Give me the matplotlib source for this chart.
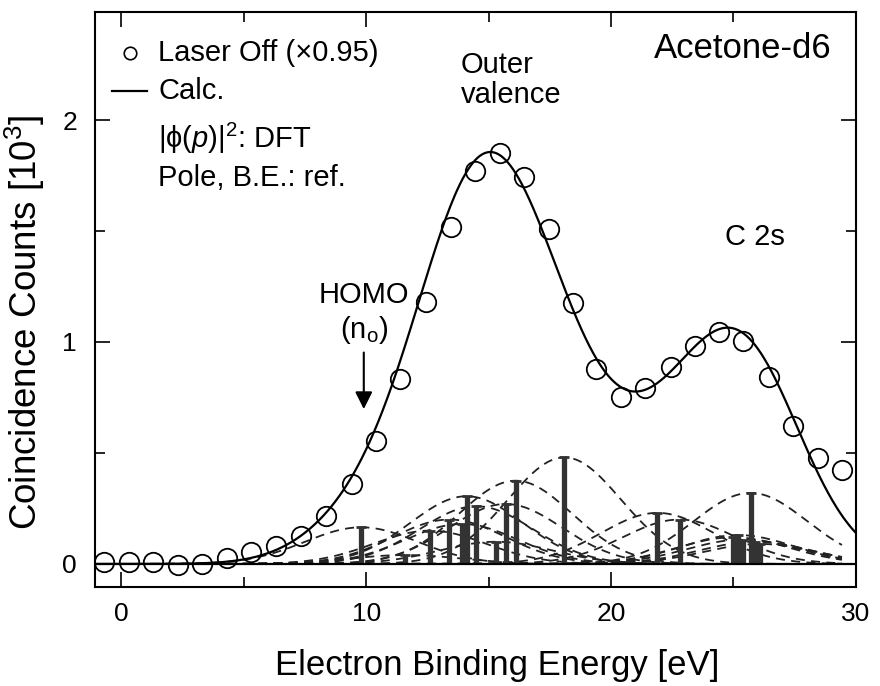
import numpy as np
import matplotlib
matplotlib.use('Agg')
import matplotlib.pyplot as plt

plt.rcParams['font.family'] = ['Liberation Sans', 'DejaVu Sans']
plt.rcParams['mathtext.fontset'] = 'custom'
plt.rcParams['mathtext.rm'] = 'Liberation Sans'
plt.rcParams['mathtext.it'] = 'Liberation Sans:italic'

# Laser Off (x0.95) data points, counts in 10^3
exp_e = [-0.7, 0.3, 1.3, 2.3, 3.3, 4.3, 5.3, 6.3, 7.35, 8.35, 9.4, 10.4,
         11.4, 12.45, 13.45, 14.45, 15.45, 16.45, 17.45, 18.45, 19.4, 20.4,
         21.4, 22.45, 23.45, 24.4, 25.4, 26.45, 27.45, 28.45, 29.45]
exp_c = [0.010, 0.010, 0.008, -0.005, 0.0, 0.026, 0.055, 0.082, 0.126, 0.218,
         0.359, 0.555, 0.833, 1.182, 1.519, 1.772, 1.853, 1.745, 1.510, 1.174,
         0.877, 0.754, 0.791, 0.889, 0.983, 1.044, 1.006, 0.841, 0.622, 0.476,
         0.423]

# ionization poles (binding energy, height of component)
pole_e = [9.8, 11.6, 12.6, 13.4, 13.9, 14.1, 14.5, 15.3, 15.7, 16.1, 18.1,
          21.9, 22.8, 25.0, 25.2, 25.4, 25.7, 25.9, 26.1]
pole_h = [0.165, 0.04, 0.15, 0.20, 0.18, 0.305, 0.26, 0.10, 0.27, 0.375, 0.48,
          0.23, 0.20, 0.12, 0.13, 0.11, 0.32, 0.10, 0.09]
sigma = 2.3  # instrumental broadening [eV]

fig = plt.figure(figsize=(8.8, 6.86), dpi=100)
ax = fig.add_axes([0.108, 0.1443, 0.865, 0.838])

xs = np.linspace(-1.08, 30.02, 800)
calc = np.zeros_like(xs)
part = (xs >= -0.7) & (xs <= 29.45)
for e, h in zip(pole_e, pole_h):
    g = h * np.exp(-(xs - e) ** 2 / (2 * sigma ** 2))
    calc += g
    ax.plot(xs[part], g[part], color='#222222', lw=1.3, ls=(0, (5, 3.5)))

ax.vlines(pole_e, 0, pole_h, color='#333333', lw=3.8)
ax.plot(pole_e, pole_h, '_', color='#333333', ms=7, mew=2)

ax.axhline(0, color='k', lw=1.6)
ax.plot(xs, calc, color='k', lw=1.6)
ax.plot(exp_e, exp_c, 'o', mfc='none', mec='k', ms=14, mew=1.3)

ax.set_xlim(-1.08, 30.02)
ax.set_ylim(-0.104, 2.486)
ax.set_xticks([0, 10, 20, 30])
ax.set_xticks([5, 15, 25], minor=True)
ax.set_yticks([0, 1, 2])
ax.set_yticks([0.5, 1.5], minor=True)
ax.set_xticklabels(['0', '10', '20', '30'])
ax.set_yticklabels(['0', '1', '2'])
ax.tick_params(which='both', direction='in', top=True, right=True, labelsize=19)
ax.tick_params(which='major', length=11, width=1.2, pad=11)
ax.tick_params(which='minor', length=7.5, width=1.2)
ax.tick_params(axis='y', pad=13)
for s in ax.spines.values():
    s.set_linewidth(1.5)

fig.text(497.5 / 880, 1 - 666 / 686, 'Electron Binding Energy [eV]', fontsize=25,
         ha='center', va='center')
fig.text(25 / 880, 1 - 322 / 686, 'Coincidence Counts [10$^3$]', fontsize=26.5,
         ha='center', va='center', rotation=90)

# legend drawn by hand
tr = ax.transAxes
ax.plot([0.046], [0.929], 'o', mfc='none', mec='k', ms=9, mew=1.2, transform=tr, clip_on=False)
ax.plot([0.022, 0.068], [0.863, 0.863], color='k', lw=1.6, transform=tr)
ax.text(0.083, 0.929, 'Laser Off (\u00d70.95)', transform=tr, fontsize=21, va='center')
ax.text(0.083, 0.863, 'Calc.', transform=tr, fontsize=21, va='center')
ax.text(0.083, 0.781, '|\u03d5($\\mathit{p}$)|$^2$: DFT', transform=tr, fontsize=21, va='center')
ax.text(0.083, 0.711, 'Pole, B.E.: ref.', transform=tr, fontsize=21, va='center')

ax.text(0.968, 0.937, 'Acetone-d6', transform=tr, fontsize=25, va='center', ha='right')
ax.text(0.480, 0.908, 'Outer', transform=tr, fontsize=21, va='center', ha='left')
ax.text(0.480, 0.856, 'valence', transform=tr, fontsize=21, va='center', ha='left')
ax.text(0.828, 0.609, 'C 2s', transform=tr, fontsize=21, va='center', ha='left')

ax.text(9.9, 1.21, 'HOMO', fontsize=21, ha='center', va='center')
ax.text(9.9, 1.054, '(n$_\\mathregular{o}$)', fontsize=21, ha='center', va='center')
ax.annotate('', xy=(9.9, 0.685), xytext=(9.9, 0.965),
            arrowprops=dict(arrowstyle='-|>', color='k', lw=1.5, mutation_scale=26))

fig.savefig('out.png', dpi=100)
